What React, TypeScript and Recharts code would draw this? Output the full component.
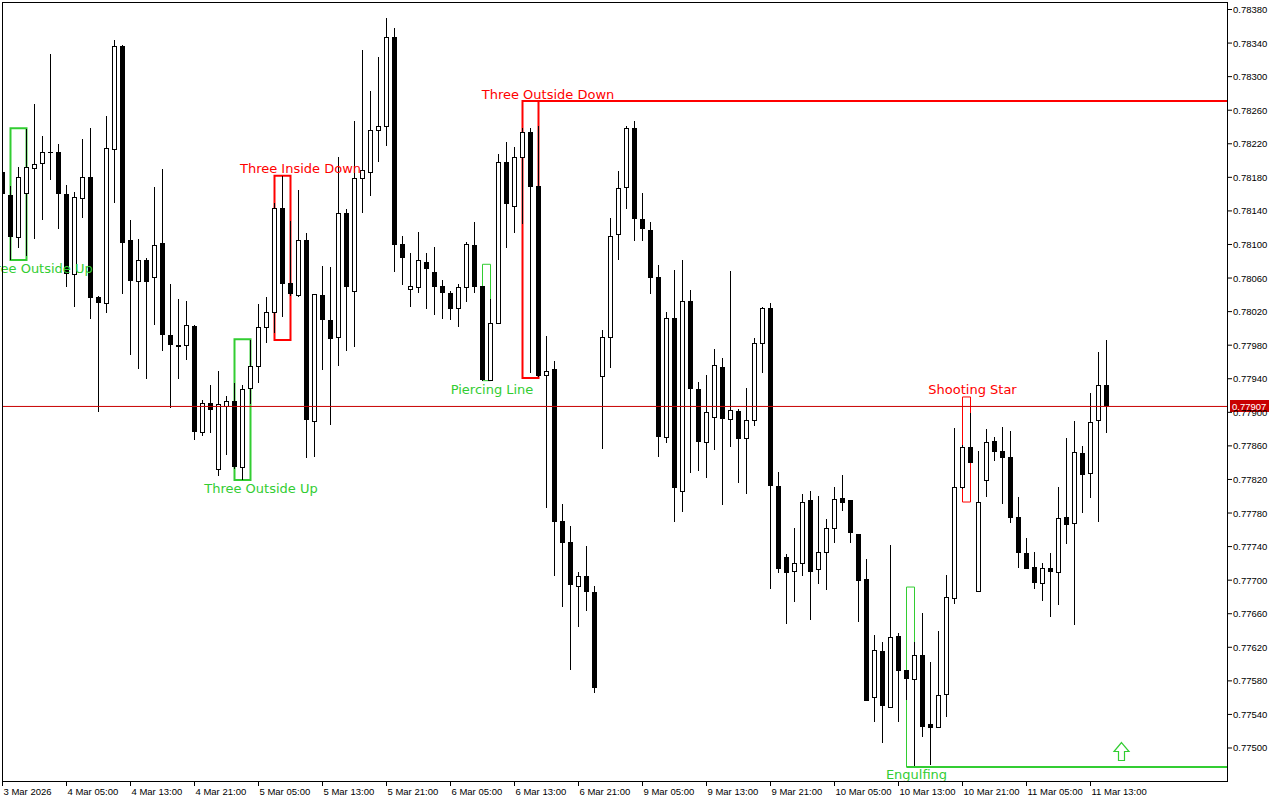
import React from 'react';
import {
  Bar,
  ComposedChart,
  ReferenceArea,
  ReferenceDot,
  ReferenceLine,
  XAxis,
  YAxis,
} from 'recharts';

// H1 candles, 3 Mar 21:00 .. 11 Mar 15:00 (weekend skipped)
const OPEN = [
  0.78186, 0.78159, 0.78109, 0.78161, 0.78191, 0.78197, 0.7821, 0.7821, 0.7816, 0.78065,
  0.78155, 0.7818, 0.78037, 0.7803, 0.78214, 0.78337, 0.78105, 0.78056, 0.78082, 0.78061,
  0.78102, 0.77992, 0.7798, 0.7798, 0.78003, 0.77877, 0.77911, 0.77832, 0.77908, 0.77913,
  0.77835, 0.77929, 0.77955, 0.78002, 0.7802, 0.78143, 0.78054, 0.7804, 0.78105, 0.7789,
  0.7804, 0.7801, 0.7799, 0.78138, 0.78044, 0.78179, 0.78186, 0.78236, 0.78241, 0.78347,
  0.78101, 0.78047, 0.78049, 0.78079, 0.78067, 0.7805, 0.78042, 0.78024, 0.78049, 0.78099,
  0.7805, 0.77938, 0.78006, 0.78198, 0.78146, 0.78204, 0.78234, 0.7817, 0.77944, 0.77952,
  0.7777, 0.77745, 0.77693, 0.77705, 0.77686, 0.77943, 0.7799, 0.78113, 0.78168, 0.78239,
  0.7813, 0.78117, 0.78061, 0.77871, 0.78012, 0.77806, 0.78033, 0.77928, 0.77865, 0.77894,
  0.77954, 0.77892, 0.77902, 0.77869, 0.77891, 0.77983, 0.78024, 0.77812, 0.77728, 0.77711,
  0.7772, 0.77796, 0.77713, 0.77734, 0.77762, 0.77798, 0.77796, 0.77755, 0.77701, 0.77561,
  0.77616, 0.77549, 0.77633, 0.77593, 0.77582, 0.77611, 0.77529, 0.77525, 0.77564, 0.77679,
  0.77811, 0.77859, 0.77687, 0.77819, 0.77866, 0.77854, 0.77847, 0.77775, 0.77732, 0.77716,
  0.77697, 0.77715, 0.7771, 0.77775, 0.77768, 0.77852, 0.77828, 0.77891, 0.77933,
];
const HIGH = [
  0.78189, 0.7817, 0.78192, 0.78238, 0.78267, 0.78229, 0.78327, 0.7822, 0.78171, 0.78163,
  0.78226, 0.78239, 0.78039, 0.78253, 0.78344, 0.78338, 0.78129, 0.78107, 0.78084, 0.78168,
  0.7819, 0.78053, 0.78035, 0.78033, 0.78004, 0.77915, 0.77933, 0.77949, 0.77919, 0.77935,
  0.77933, 0.77986, 0.78029, 0.78037, 0.78149, 0.78182, 0.78128, 0.78165, 0.78114, 0.78041,
  0.78074, 0.78073, 0.78204, 0.78142, 0.78247, 0.78332, 0.78283, 0.78323, 0.7837, 0.78358,
  0.7811, 0.7809, 0.78115, 0.7809, 0.78097, 0.78058, 0.78044, 0.78053, 0.78103, 0.78127,
  0.7805, 0.78035, 0.78208, 0.78222, 0.78216, 0.78239, 0.78239, 0.78241, 0.77991, 0.77961,
  0.77791, 0.77765, 0.7771, 0.77741, 0.77693, 0.77998, 0.78132, 0.78188, 0.78241, 0.78247,
  0.78161, 0.78127, 0.78076, 0.7802, 0.7807, 0.78082, 0.78046, 0.77936, 0.77944, 0.77975,
  0.77965, 0.78068, 0.77904, 0.77929, 0.77989, 0.78025, 0.7803, 0.77829, 0.77731, 0.77762,
  0.77803, 0.77806, 0.778, 0.77773, 0.77811, 0.77825, 0.77796, 0.77755, 0.77725, 0.77635,
  0.77626, 0.77742, 0.77637, 0.77593, 0.77626, 0.77661, 0.77603, 0.77639, 0.77706, 0.77881,
  0.77861, 0.77899, 0.77854, 0.7788, 0.77871, 0.77883, 0.77878, 0.77799, 0.7775, 0.77734,
  0.7772, 0.77732, 0.77811, 0.77869, 0.7789, 0.7786, 0.77923, 0.77972, 0.77986,
];
const LOW = [
  0.78157, 0.78082, 0.78096, 0.78086, 0.78107, 0.78129, 0.78177, 0.78118, 0.78049, 0.78025,
  0.78132, 0.78011, 0.779, 0.78018, 0.78149, 0.78041, 0.77968, 0.77952, 0.7794, 0.78004,
  0.77973, 0.77905, 0.7794, 0.77962, 0.77867, 0.77872, 0.77875, 0.77824, 0.77849, 0.77832,
  0.77819, 0.7791, 0.77935, 0.77983, 0.77995, 0.78014, 0.78039, 0.78037, 0.77846, 0.77847,
  0.7795, 0.77885, 0.77955, 0.77973, 0.77978, 0.78138, 0.78158, 0.78198, 0.78217, 0.78067,
  0.78052, 0.78025, 0.78042, 0.78023, 0.78016, 0.78011, 0.7801, 0.78002, 0.78031, 0.78042,
  0.77937, 0.77937, 0.78005, 0.78096, 0.78114, 0.78124, 0.77947, 0.77942, 0.77786, 0.77705,
  0.77668, 0.77593, 0.77644, 0.77663, 0.77566, 0.77856, 0.77953, 0.78082, 0.78142, 0.78104,
  0.78104, 0.78041, 0.77847, 0.77863, 0.77769, 0.77781, 0.77828, 0.7783, 0.77822, 0.77855,
  0.7779, 0.77859, 0.77816, 0.77803, 0.77884, 0.77947, 0.7769, 0.77709, 0.77648, 0.77674,
  0.77705, 0.77653, 0.77695, 0.77688, 0.77744, 0.77782, 0.77744, 0.7765, 0.77556, 0.77531,
  0.77506, 0.77549, 0.77531, 0.77557, 0.77477, 0.77513, 0.7748, 0.77525, 0.77537, 0.77672,
  0.77809, 0.7784, 0.77687, 0.77799, 0.77842, 0.77791, 0.77768, 0.77715, 0.77713, 0.7769,
  0.77675, 0.77656, 0.7767, 0.77743, 0.77647, 0.7778, 0.77798, 0.77769, 0.77875,
];
const CLOSE = [
  0.7816, 0.78109, 0.7818, 0.78192, 0.78196, 0.7821, 0.7821, 0.7816, 0.78065, 0.78157,
  0.7818, 0.78036, 0.7803, 0.78215, 0.78337, 0.78102, 0.78056, 0.78082, 0.78055, 0.78099,
  0.77992, 0.7798, 0.77978, 0.78004, 0.77877, 0.77911, 0.77903, 0.7791, 0.77913, 0.77835,
  0.77928, 0.77955, 0.78002, 0.7802, 0.78143, 0.78053, 0.78041, 0.78105, 0.77891, 0.78041,
  0.7801, 0.77987, 0.78138, 0.78049, 0.78179, 0.78189, 0.78236, 0.78241, 0.78347, 0.78099,
  0.78084, 0.7805, 0.78082, 0.78071, 0.78049, 0.78042, 0.78023, 0.78049, 0.78101, 0.78049,
  0.77938, 0.78006, 0.78198, 0.78148, 0.78204, 0.78234, 0.78168, 0.77943, 0.77949, 0.77769,
  0.77744, 0.77694, 0.77705, 0.77686, 0.77572, 0.7799, 0.7811, 0.78167, 0.78239, 0.7813,
  0.78118, 0.7806, 0.77871, 0.78012, 0.7781, 0.78033, 0.77928, 0.77865, 0.779, 0.77956,
  0.77892, 0.77903, 0.77868, 0.77891, 0.77983, 0.78024, 0.77812, 0.77713, 0.77709, 0.7772,
  0.77793, 0.7771, 0.77734, 0.77762, 0.77797, 0.77792, 0.77756, 0.77699, 0.77556, 0.77617,
  0.7755, 0.77632, 0.77592, 0.77582, 0.77611, 0.77525, 0.77524, 0.77563, 0.7768, 0.77811,
  0.77859, 0.7784, 0.77793, 0.77865, 0.77853, 0.77846, 0.77774, 0.77732, 0.77713, 0.77697,
  0.77715, 0.7771, 0.77774, 0.77766, 0.77853, 0.77825, 0.77888, 0.77933, 0.77907,
];

const TIME_LABELS = [
  '3 Mar 2026', '4 Mar 05:00', '4 Mar 13:00', '4 Mar 21:00', '5 Mar 05:00', '5 Mar 13:00',
  '5 Mar 21:00', '6 Mar 05:00', '6 Mar 13:00', '6 Mar 21:00', '9 Mar 05:00', '9 Mar 13:00',
  '9 Mar 21:00', '10 Mar 05:00', '10 Mar 13:00', '10 Mar 21:00', '11 Mar 05:00', '11 Mar 13:00',
];
const TIME_TICKS = [0, 8, 16, 24, 32, 40, 48, 56, 64, 72, 80, 88, 96, 104, 112, 120, 128, 136];

const PRICE_TICKS = [
  0.775, 0.7754, 0.7758, 0.7762, 0.7766, 0.777, 0.7774, 0.7778, 0.7782, 0.7786, 0.779, 0.7794,
  0.7798, 0.7802, 0.7806, 0.781, 0.7814, 0.7818, 0.7822, 0.7826, 0.783, 0.7834, 0.7838,
];
const LAST_PRICE = 0.77907;

// candle patterns found by the indicator
const PATTERN_NAMES = [
  'Three Outside Up', 'Three Outside Up', 'Three Inside Down', 'Piercing Line',
  'Three Outside Down', 'Engulfing', 'Shooting Star',
];
const PATTERN_BULL = [true, true, false, true, false, true, false];
const PATTERN_FIRST = [1, 29, 34, 60, 65, 113, 120];
const PATTERN_LAST = [3, 31, 36, 61, 67, 114, 121];
const PATTERN_HIGH = [0.782384, 0.77987, 0.78182, 0.780764, 0.78271, 0.776918, 0.779183];
const PATTERN_LOW = [0.780815, 0.778193, 0.779862, 0.779377, 0.779409, 0.774774, 0.777931];
const LABEL_AT = [4.19, 32.31, 37.25, 61.19, 68.19, 114.25, 121.25];
const LABEL_PRICE = [0.780714, 0.778092, 0.781905, 0.779278, 0.782793, 0.774684, 0.779278];

const RESIST_FROM = 65;
const RESIST_PRICE = 0.78271;
const SUPPORT_FROM = 113;
const SUPPORT_PRICE = 0.774774;
const BUY_ARROW_AT = 139.875;
const BUY_ARROW_PRICE = 0.774958;

const X_DOMAIN: [number, number] = [0.0625, 153.1875];
const Y_DOMAIN: [number, number] = [0.7745948, 0.7838894];

const GREEN = '#32cd32';
const RED = '#ff0000';
const BID = '#c80000';
const AXIS_FONT = '"Liberation Sans", Arial, sans-serif';
const LABEL_FONT = '"DejaVu Sans", sans-serif';

const rows = OPEN.map((o, i) => ({
  i,
  o,
  h: HIGH[i],
  l: LOW[i],
  c: CLOSE[i],
  range: [LOW[i], HIGH[i]],
}));

function Candle(props: any) {
  const { x, y, width, height, payload } = props;
  if (!payload || !Number.isFinite(x) || !Number.isFinite(y)) return null;
  const { o, h, l, c } = payload;
  const cx = Math.floor(x + width / 2);
  const span = h - l || 1;
  const at = (v: number) => Math.round(y + ((h - v) / span) * height);
  const top = at(Math.max(o, c));
  const bot = at(Math.min(o, c));
  const y0 = Math.round(y);
  const y1 = Math.round(y + height);
  return (
    <g>
      <rect x={cx} y={y0} width={1} height={Math.max(1, y1 - y0)} fill="#000" />
      {c > o ? (
        <rect x={cx - 1.5} y={top + 0.5} width={4} height={Math.max(bot - top, 1)} fill="#fff" stroke="#000" strokeWidth={1} />
      ) : (
        <rect x={cx - 2} y={top} width={5} height={Math.max(bot - top, 1)} fill="#000" />
      )}
    </g>
  );
}

function TimeTick({ x, y, payload }: any) {
  const k = TIME_TICKS.indexOf(payload.value);
  return (
    <text x={x + 1} y={y + 7} fontSize={9.5} fontFamily={AXIS_FONT} fill="#000">
      {TIME_LABELS[k]}
    </text>
  );
}

function PriceTick({ x, y, payload }: any) {
  return (
    <text x={x - 1} y={y + 3.5} fontSize={9.5} fontFamily={AXIS_FONT} fill="#000">
      {payload.value.toFixed(5)}
    </text>
  );
}

function PriceTag({ viewBox }: any) {
  if (!viewBox) return null;
  const left = viewBox.x + viewBox.width + 2;
  const mid = Math.round(viewBox.y);
  return (
    <g>
      <rect x={left} y={mid - 6} width={39} height={12} fill={BID} />
      <text x={left + 2} y={mid + 3.5} fontSize={9.5} fontFamily={AXIS_FONT} fill="#fff">
        {LAST_PRICE.toFixed(5)}
      </text>
    </g>
  );
}

function UpArrow({ cx, cy }: any) {
  if (!Number.isFinite(cx)) return null;
  const d = `M${cx} ${cy - 9} L${cx + 7.5} ${cy} L${cx + 3} ${cy} L${cx + 3} ${cy + 9} L${cx - 3} ${cy + 9} L${cx - 3} ${cy} L${cx - 7.5} ${cy} Z`;
  return <path d={d} fill="#fff" stroke={GREEN} strokeWidth={1.2} />;
}

export default function App() {
  return (
    <div style={{ position: 'fixed', left: 0, top: 0, width: 1280, height: 800, background: '#fff' }}>
      <ComposedChart width={1280} height={800} data={rows} margin={{ top: 2, right: 0, bottom: 0, left: 3 }}>
        <XAxis
          type="number"
          dataKey="i"
          domain={X_DOMAIN}
          allowDataOverflow
          ticks={TIME_TICKS}
          interval={0}
          height={18}
          axisLine={false}
          tickLine={{ stroke: '#000' }}
          tickSize={4}
          tick={<TimeTick />}
        />
        <YAxis
          type="number"
          orientation="right"
          domain={Y_DOMAIN}
          allowDataOverflow
          ticks={PRICE_TICKS}
          interval={0}
          width={52}
          axisLine={false}
          tickLine={{ stroke: '#000' }}
          tickSize={4}
          tick={<PriceTick />}
        />
        {PATTERN_NAMES.map((name, k) => (
          <ReferenceArea
            key={`box-${k}`}
            x1={PATTERN_FIRST[k]}
            x2={PATTERN_LAST[k]}
            y1={PATTERN_LOW[k]}
            y2={PATTERN_HIGH[k]}
            fill="none"
            fillOpacity={0}
            stroke={PATTERN_BULL[k] ? GREEN : RED}
            strokeWidth={PATTERN_LAST[k] - PATTERN_FIRST[k] >= 2 ? 2 : 1}
            ifOverflow="hidden"
          />
        ))}
        <ReferenceLine
          segment={[
            { x: RESIST_FROM, y: RESIST_PRICE },
            { x: X_DOMAIN[1], y: RESIST_PRICE },
          ]}
          stroke={RED}
          strokeWidth={2}
          ifOverflow="visible"
        />
        <ReferenceLine
          segment={[
            { x: SUPPORT_FROM, y: SUPPORT_PRICE },
            { x: X_DOMAIN[1], y: SUPPORT_PRICE },
          ]}
          stroke={GREEN}
          strokeWidth={2}
          ifOverflow="visible"
        />
        <ReferenceLine y={LAST_PRICE} stroke={BID} strokeWidth={1} label={<PriceTag />} />
        <Bar dataKey="range" barSize={5} isAnimationActive={false} shape={<Candle />} />
        {PATTERN_NAMES.map((name, k) => (
          <ReferenceDot
            key={`lbl-${k}`}
            x={LABEL_AT[k]}
            y={LABEL_PRICE[k]}
            r={0}
            stroke="none"
            fill="none"
            ifOverflow="hidden"
            label={{
              value: name,
              position: 'center',
              fill: PATTERN_BULL[k] ? GREEN : RED,
              fontSize: 13,
              fontFamily: LABEL_FONT,
            }}
          />
        ))}
        <ReferenceDot x={BUY_ARROW_AT} y={BUY_ARROW_PRICE} r={9} shape={<UpArrow />} ifOverflow="visible" />
      </ComposedChart>
      <div
        style={{
          position: 'absolute',
          left: 2,
          top: 2,
          width: 1226,
          height: 780,
          border: '1px solid #000',
          boxSizing: 'border-box',
          pointerEvents: 'none',
        }}
      />
    </div>
  );
}
